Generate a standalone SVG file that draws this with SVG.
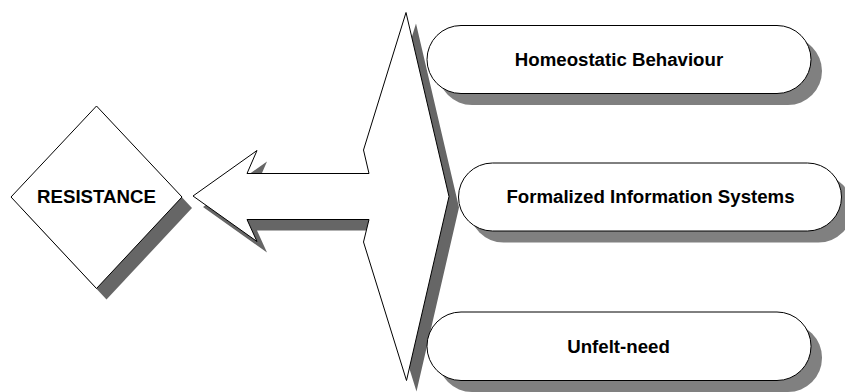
<svg xmlns="http://www.w3.org/2000/svg" width="845" height="392" viewBox="0 0 845 392">
  <style>
    .outline { fill: #ffffff; stroke: #000000; stroke-width: 1; stroke-linejoin: miter; }
    .shade-dark { fill: #666666; stroke: none; }
    .shade { fill: #808080; stroke: none; }
    .label { font-family: "Liberation Sans", Arial, sans-serif; font-weight: bold; font-size: 18.67px; fill: #000000; text-anchor: middle; }
  </style>
  <defs>
    <polygon id="diamond-shape" points="96.5,106 182,197 96.5,288.5 11,197"/>
    <polygon id="arrow-shape" points="406,12.5 449,196.5 406.5,380.5 363.5,242 369,219.5 247,219.5 257,241.5 193,196 257,150.5 247,173.5 369,173.5 363.5,150"/>
    <rect id="pill-a" x="427" y="25.5" width="384" height="68" rx="34" ry="34"/>
    <rect id="pill-b" x="458.5" y="163" width="383" height="68" rx="34" ry="34"/>
    <rect id="pill-c" x="427" y="312" width="384" height="68.5" rx="34" ry="34"/>
  </defs>

  <!-- resistance diamond -->
  <g id="resistance">
    <use href="#diamond-shape" class="shade-dark" transform="translate(10,11)"/>
    <use href="#diamond-shape" class="outline"/>
    <text class="label" x="96.5" y="203">RESISTANCE</text>
  </g>

  <!-- combined vertical/left block arrow -->
  <g id="connectors">
    <use href="#arrow-shape" class="shade-dark" transform="translate(10,11)"/>
    <use href="#arrow-shape" class="outline"/>
  </g>

  <!-- causes on the right -->
  <g id="homeostatic-behaviour">
    <use href="#pill-a" class="shade" transform="translate(11,11.5)"/>
    <use href="#pill-a" class="outline"/>
    <text class="label" x="619" y="65.7">Homeostatic Behaviour</text>
  </g>

  <g id="formalized-information-systems">
    <use href="#pill-b" class="shade" transform="translate(11,11.5)"/>
    <use href="#pill-b" class="outline"/>
    <text class="label" x="650.5" y="203.3">Formalized Information Systems</text>
  </g>

  <g id="unfelt-need">
    <use href="#pill-c" class="shade" transform="translate(11,11.5)"/>
    <use href="#pill-c" class="outline"/>
    <text class="label" x="618.5" y="352.7">Unfelt-need</text>
  </g>
</svg>
